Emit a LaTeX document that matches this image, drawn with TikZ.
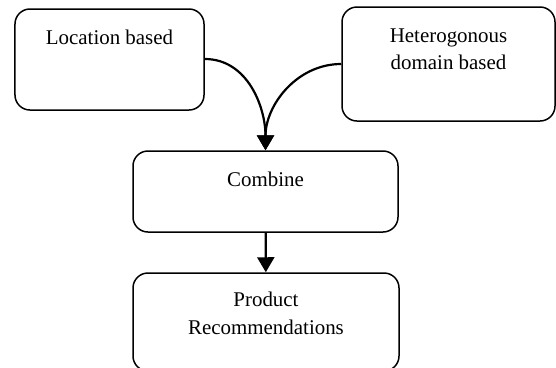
\documentclass[tikz,border=0pt]{standalone}
\usepackage{fontspec}
\setmainfont{Liberation Serif}
\usetikzlibrary{arrows.meta}

\begin{document}
\begin{tikzpicture}[
  x=1bp, y=-1bp,
  box/.style  = {draw, line width=1.5bp, rounded corners=15bp, inner sep=0pt},
  txt/.style  = {anchor=north, align=center, inner sep=0pt, yshift=-22bp,
                 font=\fontsize{21}{27.5}\selectfont},
  arr/.style  = {-{Triangle[length=15bp, width=17bp]}, line width=2.2bp},
]
\useasboundingbox (0,0) rectangle (556,367);
% top row: sources
\node[box, minimum width=189bp, minimum height=101bp,
      label={[txt]north:Location based}] (loc) at (109.5,59.5) {};
\node[box, minimum width=213bp, minimum height=114bp,
      label={[txt]north:Heterogonous\\domain based}] (het) at (448.5,64) {};
% middle: merge
\node[box, minimum width=265bp, minimum height=81bp,
      label={[txt]north:Combine}] (comb) at (265.5,191.5) {};
% bottom: result
\node[box, minimum width=266bp, minimum height=98bp,
      label={[txt, yshift=2bp]north:Product\\Recommendations}] (prod) at (266,322) {};
% edges
\draw[arr] (loc.east |- 0,59) to[out=0,in=90] (comb.north);
\draw[arr] (het.west |- 0,64) to[out=180,in=90] (comb.north);
\draw[arr] (comb) -- (prod);
\end{tikzpicture}
\end{document}
